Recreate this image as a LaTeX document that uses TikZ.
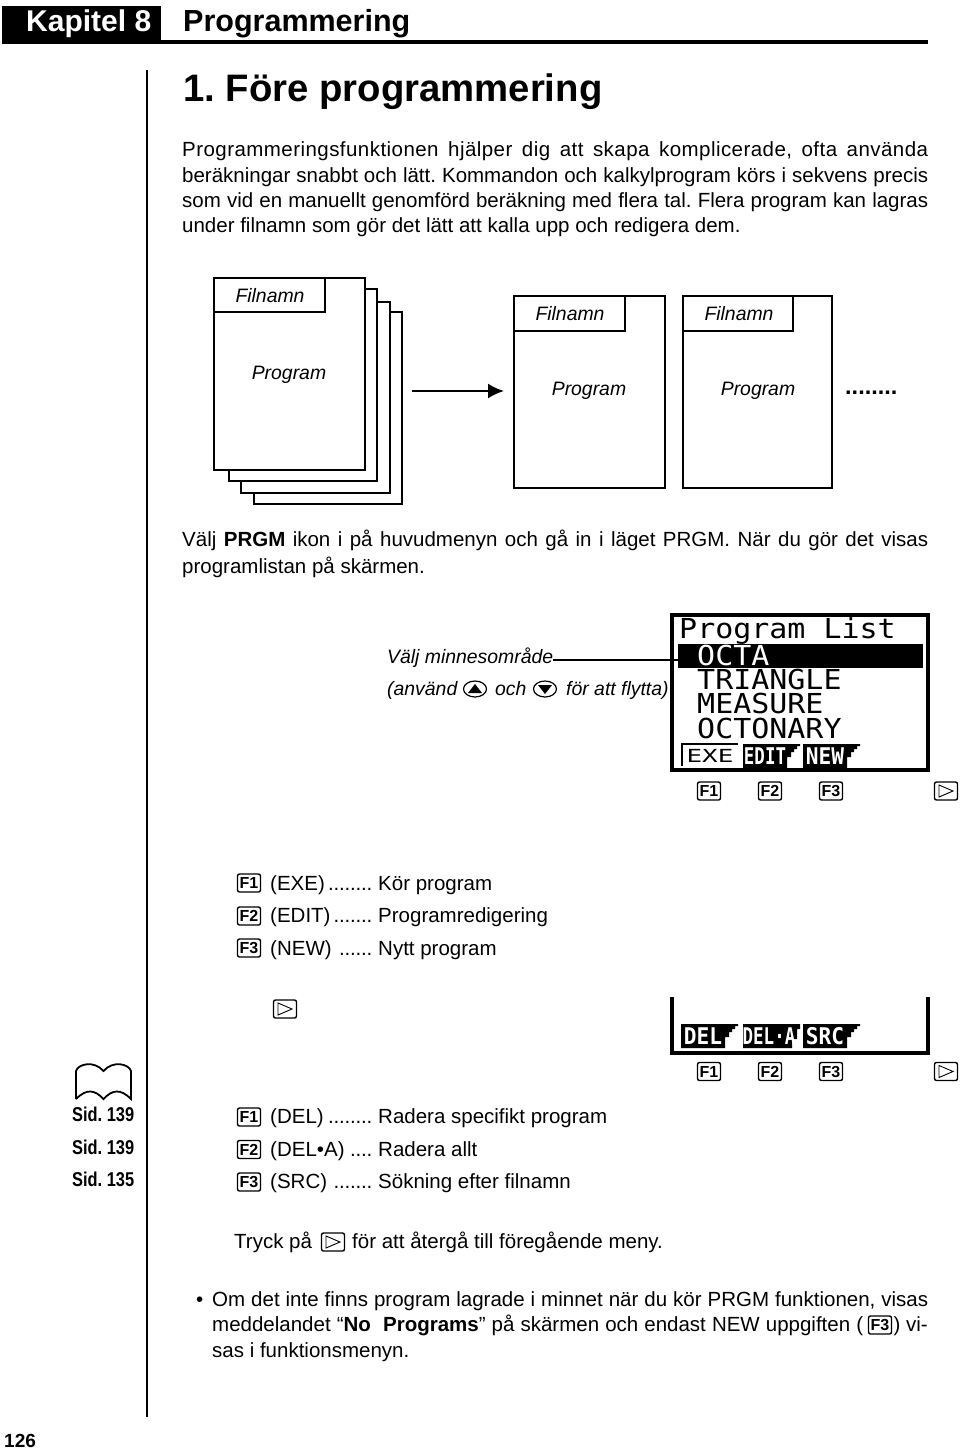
\documentclass[tikz,border=0pt]{standalone}
\usepackage{fontspec}
\usetikzlibrary{arrows.meta,shapes.geometric}
\setmainfont{Liberation Sans}
\newfontfamily\narrowfont[FakeStretch=0.82]{Liberation Sans}
\newfontfamily\dotfont[LetterSpace=-1]{Liberation Sans}
\newfontfamily\lcdfont[FakeStretch=1.09]{DejaVu Sans Mono}
\newfontfamily\lcdwide[FakeStretch=1.44]{DejaVu Sans Mono}
\newfontfamily\lcdtab[FakeStretch=0.92]{DejaVu Sans Mono}
\newfontfamily\lcdtight[FakeStretch=0.76]{DejaVu Sans Mono}
\newcommand{\fs}[1]{\fontsize{#1}{#1}\selectfont}
\newcommand{\jl}[2]{\hbox to #1pt{#2}}
\newcommand{\softtab}[4]{%
  \fill (#1,#2) -- ++(57,0) -- ++(0,2) -- ++(-3,0) -- ++(0,3) -- ++(-3,0) -- ++(0,3) -- ++(-3,0) -- ++(0,5) -- ++(-4,0) -- ++(0,11) -- ++(-44,0) -- cycle;
  \node[lcdtext,white] (#3) at (#1+22,#2+12) {#4};}
\tikzset{every node/.style={inner sep=0pt}}
\tikzset{body/.style={anchor=base west,font=\fs{20.5}}}
\tikzset{ital/.style={anchor=base,font=\fs{19.4}\itshape}}
\tikzset{page/.style={draw,line width=1.4pt,fill=white}}
\tikzset{keycap/.style={draw,line width=1.4pt,rounded corners=2pt,minimum width=23pt,minimum height=18pt,font=\fs{16}\bfseries}}
\tikzset{lcdline/.style={anchor=base west,font=\fs{27.5}\lcdfont}}
\tikzset{lcdtext/.style={font=\fs{23}\bfseries}}
\tikzset{sid/.style={anchor=base west,font=\fs{20}\narrowfont\bfseries}}
\tikzset{circkey/.style={draw,ellipse,line width=1.2pt,minimum width=23pt,minimum height=16pt}}
\frenchspacing
\begin{document}
\begin{tikzpicture}[x=1pt,y=-1pt]
  \useasboundingbox (0,0) rectangle (960,1453);
  % header
  \fill (2,6) rectangle (161,43);
  \draw[line width=3.5pt] (2,42) -- (928,42);
  \node[anchor=base west,white,font=\fs{30}\bfseries] (kapitel) at (26,32) {Kapitel 8};
  \node[anchor=base west,font=\fs{30.5}\bfseries] (titel) at (183,32) {Programmering};
  \node[anchor=base west,font=\fs{38.3}\bfseries] (rubrik) at (183,102) {1. Före programmering};
  \draw[line width=1.8pt] (147,70) -- (147,1417);
  % intro
  \node[body] (p1) at (182,156.5) {\jl{746}{\addfontfeature{LetterSpace=2.2}Programmeringsfunktionen hjälper dig att skapa komplicerade, ofta använda}};
  \node[body] (p2) at (182,182) {\jl{746}{beräkningar snabbt och lätt. Kommandon och kalkylprogram körs i sekvens precis}};
  \node[body] (p3) at (182,207) {\jl{746}{som vid en manuellt genomförd beräkning med flera tal. Flera program kan lagras}};
  \node[body] (p4) at (182,232) {under filnamn som gör det lätt att kalla upp och redigera dem.};
  % file stack
  \draw[page] (254,312) rectangle (402,504);
  \draw[page] (241,302) rectangle (390,493);
  \draw[page] (229,289) rectangle (377,481);
  \draw[page] (214,278) rectangle (365,470);
  \draw[page] (214,278) rectangle (325,312);
  \node[ital] (fn1) at (270,302) {Filnamn};
  \node[ital] (pr1) at (289,379) {Program};
  \coordinate (pilstart) at (412,391);
  \coordinate (pilslut) at (504,391);
  \draw[line width=2pt,-{Latex[length=16pt,width=15pt]}] (pilstart) -- (pilslut);
  \draw[page] (514,296) rectangle (665,488);
  \draw[page] (514,296) rectangle (625,331);
  \node[ital] (fn2) at (570,320) {Filnamn};
  \node[ital] (pr2) at (589,395) {Program};
  \draw[page] (683,296) rectangle (832,488);
  \draw[page] (683,296) rectangle (793,331);
  \node[ital] (fn3) at (739,320) {Filnamn};
  \node[ital] (pr3) at (758,395) {Program};
  \node[anchor=base west,font=\fs{23.5}] (dots) at (845,394) {\bfseries ........};
  % prgm text
  \node[body] (v1) at (182,546) {\jl{746}{Välj \textbf{PRGM} ikon i på huvudmenyn och gå in i läget PRGM. När du gör det visas}};
  \node[body] (v2) at (182,573) {programlistan på skärmen.};
  % screen
  \node[ital,anchor=base west] (minne) at (387,663) {Välj minnesområde};
  \node[ital,anchor=base west] (anv) at (387,695) {(använd};
  \node[circkey] (upp) at (475,689) {};
  \fill (upp.center) ++(0,-5) -- ++(7,9) -- ++(-14,0) -- cycle;
  \node[ital,anchor=base west] (och) at (495,695) {och};
  \node[circkey] (ner) at (545,689) {};
  \fill (ner.center) ++(0,5) -- ++(7,-9) -- ++(-14,0) -- cycle;
  \node[ital,anchor=base west] (flytta) at (566,695) {för att flytta)};
  \draw[line width=3.5pt] (672,615) rectangle (928,770);
  \node[lcdline] (lista) at (679,638.5) {Program List};
  \fill (678,644) rectangle (923,668);
  \coordinate (barstart) at (678,660);
  \draw[line width=1.3pt] (minne.east |- barstart) -- (barstart);
  \node[lcdline,white] (octa) at (697,665) {OCTA};
  \node[lcdline] (tri) at (697,689) {TRIANGLE};
  \node[lcdline] (mea) at (697,713) {MEASURE};
  \node[lcdline] (oct) at (697,738) {OCTONARY};
  \draw[line width=1.8pt] (682,766) -- (682,744) -- (738,744);
  \node[font=\fs{18}] (exe) at (710,756) {\lcdwide EXE};
  \softtab{743}{744}{edit}{\lcdtight EDIT}
  \softtab{803}{744}{new}{\lcdtab NEW}
  % key row 1
  \node[keycap] (a1) at (709,791) {F1};
  \node[keycap] (a2) at (770,791) {F2};
  \node[keycap] (a3) at (831,791) {F3};
  \node[keycap] (a4) at (946,791) {};
  \draw[line width=.9pt] (939,785) -- (953,791) -- (939,797) -- cycle;
  % list 1
  \node[keycap] (b1) at (249,883) {F1};
  \node[body] (b1t) at (270,890) {\jl{102}{(EXE)\hfill{\dotfont ........}}};
  \node[body] (b1u) at (378,890) {Kör program};
  \node[keycap] (b2) at (249,916) {F2};
  \node[body] (b2t) at (270,922.5) {\jl{102}{(EDIT)\hfill{\dotfont .......}}};
  \node[body] (b2u) at (378,922.5) {Programredigering};
  \node[keycap] (b3) at (249,948) {F3};
  \node[body] (b3t) at (270,955) {\jl{102}{(NEW)\hfill{\dotfont ......}}};
  \node[body] (b3u) at (378,955) {Nytt program};
  \node[keycap] (c0) at (285,1009) {};
  \draw[line width=.9pt] (278,1003) -- (292,1009) -- (278,1015) -- cycle;
  % second screen
  \draw[line width=3.5pt] (672,997) -- (672,1053) -- (928,1053) -- (928,997);
  \softtab{681}{1024}{del}{\lcdtab DEL}
  \fill (743,1024) -- (800,1024) -- (800,1029) -- (797,1029) -- (797,1039) -- (792,1039) -- (792,1048) -- (743,1048) -- cycle;
  \node[lcdtext,white] (dela) at (769,1036) {\lcdtight DEL·A};
  \softtab{803}{1024}{src}{\lcdtab SRC}
  \node[keycap] (d1) at (709,1071.5) {F1};
  \node[keycap] (d2) at (770,1071.5) {F2};
  \node[keycap] (d3) at (831,1071.5) {F3};
  \node[keycap] (d4) at (946,1071.5) {};
  \draw[line width=.9pt] (939,1065.5) -- (953,1071.5) -- (939,1077.5) -- cycle;
  % book
  \draw[line width=1.8pt] (76,1099) -- (76,1071) .. controls (78,1064) and (94,1060) .. (103.5,1071) .. controls (113,1060) and (129,1064) .. (131,1071) -- (131,1099) .. controls (120,1088) and (112,1090) .. (103.5,1099) .. controls (95,1090) and (87,1088) .. (76,1099);
  \node[sid] (s1) at (72,1121) {Sid. 139};
  \node[sid] (s2) at (72,1154) {Sid. 139};
  \node[sid] (s3) at (72,1186) {Sid. 135};
  % list 2
  \node[keycap] (e1) at (249,1117) {F1};
  \node[body] (e1t) at (270,1123.5) {\jl{102}{(DEL)\hfill{\dotfont ........}}};
  \node[body] (e1u) at (378,1123.5) {Radera specifikt program};
  \node[keycap] (e2) at (249,1149.5) {F2};
  \node[body] (e2t) at (270,1156) {\jl{102}{(DEL•A)\hfill{\dotfont ....}}};
  \node[body] (e2u) at (378,1156) {Radera allt};
  \node[keycap] (e3) at (249,1182) {F3};
  \node[body] (e3t) at (270,1188.5) {\jl{102}{(SRC)\hfill{\dotfont .......}}};
  \node[body] (e3u) at (378,1188.5) {Sökning efter filnamn};
  % back
  \node[body] (tr) at (234,1248) {Tryck på};
  \node[keycap] (f1) at (333,1242) {};
  \draw[line width=.9pt] (326,1236) -- (340,1242) -- (326,1248) -- cycle;
  \node[body] (tr2) at (352,1248) {för att återgå till föregående meny.};
  % note
  \node[body] (bul) at (196,1306) {•};
  \node[body] (n1) at (212,1306) {\jl{716}{Om det inte finns program lagrade i minnet när du kör PRGM funktionen, visas}};
  \node[body] (n2) at (212,1331) {\jl{651}{meddelandet “\textbf{No\ \ Programs}” på skärmen och endast NEW uppgiften (}};
  \node[keycap] (g1) at (880,1325) {F3};
  \node[body,anchor=base east] (n2b) at (928,1331) {) vi-};
  \node[body] (n3) at (212,1357) {sas i funktionsmenyn.};
  \node[anchor=base west,font=\fs{19}\bfseries] (sida) at (4,1447) {126};
\end{tikzpicture}
\end{document}
